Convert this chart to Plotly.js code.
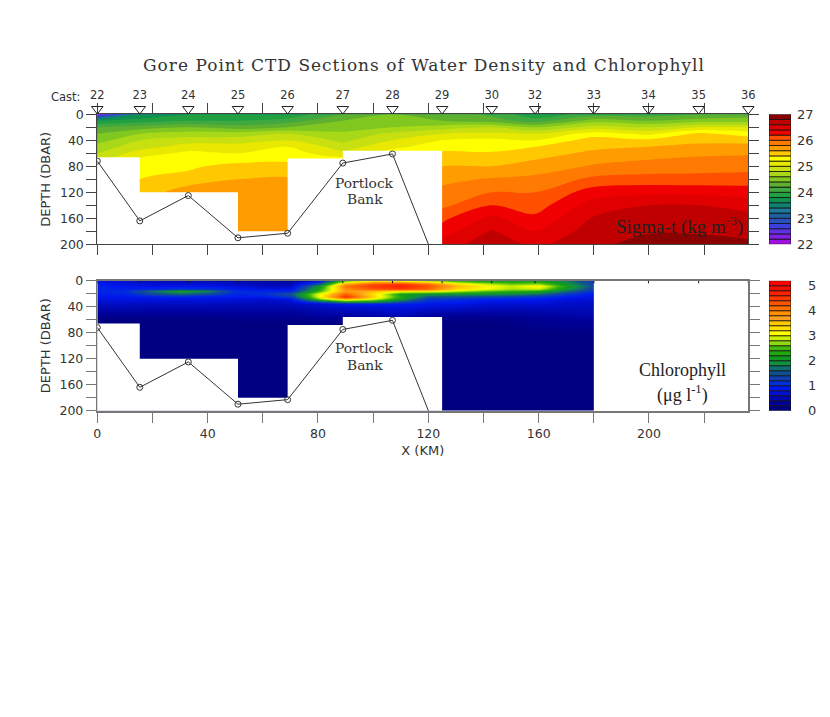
<!DOCTYPE html>
<html><head><meta charset="utf-8">
<script src="https://cdn.plot.ly/plotly-3.0.1.min.js"></script>
<style>html,body{margin:0;padding:0;background:#fff}.gtitle{letter-spacing:1px}</style></head>
<body><div id="c" style="width:830px;height:717px"></div>
<script>
var castLabels=['22','23','24','25','26','27','28','29','30','32','33','34','35','36'];
var castKm=[0,15.4,33,51,69,89,107,125,143,158.7,180,199.8,218,236];
var sigmaDepth=[0,10,20,30,40,50,60,70,80,100,120,140,160,180,200];
var sigmaByDepth=[
[22.3,23.6,23.8,23.8,23.85,24.2,24.4,24.3,24.15,23.85,24.1,24.1,24.2,24.3],
[23.8,23.9,24.0,24.0,24.1,24.4,24.45,24.4,24.3,24.1,24.5,24.4,24.5,24.5],
[24.2,24.3,24.4,24.3,24.4,24.5,24.6,24.7,24.8,24.6,24.9,24.8,25.0,25.0],
[24.4,24.6,24.7,24.7,24.8,24.65,24.85,25.0,25.05,25.0,25.3,25.15,25.45,25.3],
[24.5,24.8,24.9,24.9,25.0,24.75,25.0,25.2,25.25,25.2,25.5,25.45,25.55,25.55],
[24.7,24.9,25.1,25.1,25.2,24.9,25.15,25.3,25.33,25.4,25.55,25.6,25.65,25.65],
[24.8,25.1,25.25,25.2,25.3,25.05,25.3,25.45,25.42,25.5,25.65,25.72,25.75,25.78],
[24.9,25.25,25.3,25.3,25.35,25.3,25.4,25.5,25.5,25.6,25.75,25.8,25.85,25.85],
[25.0,25.3,25.35,25.5,25.5,25.4,25.5,25.6,25.6,25.7,25.82,25.88,25.92,25.92],
[25.1,25.4,25.5,25.6,25.62,25.5,25.6,25.75,25.82,25.85,26.05,26.08,26.07,26.1],
[25.2,25.5,25.7,25.7,25.7,25.6,25.7,25.85,26.0,26.0,26.3,26.35,26.35,26.3],
[25.3,25.6,25.7,25.7,25.72,25.7,25.8,25.95,26.2,26.1,26.5,26.6,26.6,26.55],
[25.4,25.6,25.7,25.72,25.75,25.8,25.9,26.15,26.45,26.25,26.62,26.7,26.7,26.65],
[25.5,25.7,25.7,25.72,25.75,25.9,26.0,26.3,26.62,26.4,26.7,26.78,26.78,26.72],
[25.5,25.7,25.7,25.75,25.75,25.9,26.1,26.5,26.72,26.55,26.75,26.88,26.88,26.85]
];
var sigmaColors=['#a010e0','#8020e0','#6030e0','#3a40e0','#2a50c0','#2060a0','#1f7a9a','#108070','#109050','#20a040','#40a840','#60b030','#80c820','#a8d818','#c8e010','#e8e800','#ffff00','#ffc800','#ff9c00','#ff7a00','#ff5000','#f00000','#e00000','#c00000','#8b0000'];
var sigmaLevels=[22,22.2,22.4,22.6,22.8,23,23.2,23.4,23.6,23.8,24,24.2,24.4,24.6,24.8,25,25.2,25.4,25.6,25.8,26,26.2,26.4,26.6,26.8];
var chlKm=[0,10,20,30,40,50,60,70,80,90,100,110,120,130,140,150,160,170,180];
var chlDepth=[0,4,8,12,16,20,24,28,32,36,40,50,60,80,120,200];
var chlByDepth=[
[.85,.7,.6,.6,.6,.55,.45,.4,.8,2.6,3.3,3.2,2.9,2.4,2.2,2.2,2.2,1.8,1.2],
[.9,.75,.7,.7,.7,.6,.5,.5,1.4,3.7,4.3,4.5,4.1,3.3,2.9,2.6,2.7,2,1.3],
[1,.85,.8,.85,.85,.75,.6,.6,2.0,4.1,4.5,4.7,4.3,3.6,3.2,2.9,3.2,2.2,1.4],
[1,.95,1,1.1,1.1,.9,.8,.8,2.2,3.9,4.3,4.5,4.2,3.4,3.1,2.8,2.9,2.0,1.3],
[1,1.1,1.7,2.2,1.9,1.1,1,1,2.4,3.8,3.6,3.3,3.3,2.9,2.6,2.4,2.3,1.7,1.1],
[.95,1,1.4,1.6,1.4,1,1.1,1.5,3.0,4.2,3.3,2.2,2.0,2.0,2.0,1.9,1.7,1.2,.9],
[.85,.85,.9,.95,.9,.9,.9,1.2,3.0,4.6,3.4,2.3,1.5,1.4,1.3,1.2,1.1,.9,.8],
[.8,.8,.8,.8,.8,.75,.7,.8,2.6,3.6,3.0,2.1,1.2,1.1,1,.95,.9,.8,.7],
[.7,.7,.7,.7,.7,.65,.6,.65,1.3,2.0,1.9,1.4,1,.95,.85,.8,.8,.7,.65],
[.6,.6,.6,.6,.6,.55,.55,.6,.7,.9,.95,.95,.85,.8,.7,.7,.7,.65,.6],
[.55,.55,.5,.5,.5,.5,.5,.5,.6,.7,.75,.8,.75,.7,.65,.6,.6,.6,.55],
[.3,.3,.3,.3,.3,.3,.3,.3,.4,.45,.5,.6,.45,.35,.35,.35,.4,.45,.5],
[.1,.1,.1,.1,.1,.15,.15,.15,.2,.2,.25,.25,.2,.15,.15,.2,.25,.3,.35],
[.05,.05,.05,.05,.05,.05,.05,.05,.05,.05,.05,.05,.05,.05,.05,.1,.12,.15,.15],
[.05,.05,.05,.05,.05,.05,.05,.05,.05,.05,.05,.05,.05,.05,.05,.05,.05,.05,.05],
[.05,.05,.05,.05,.05,.05,.05,.05,.05,.05,.05,.05,.05,.05,.05,.05,.05,.05,.05]
];
var chlColors=['#000080','#000098','#0008b0','#0010d0','#0018f0','#0030d8','#1040b0','#105090','#107070','#109040','#109820','#20a810','#40b810','#90d810','#c8f000','#ffff00','#ffe000','#ffc800','#ffa020','#ff9000','#ff7000','#ff5400','#ff3800','#ff2000','#f01000','#ff0000'];
var chlLevels=[0,.2,.4,.6,.8,1,1.2,1.4,1.6,1.8,2,2.2,2.4,2.6,2.8,3,3.2,3.4,3.6,3.8,4,4.2,4.4,4.6,4.8,5];
var bottomKm=[0,15.4,33,51,69,89,107,125];
var bottomDepth=[72,164,125,190,183,75,61,253];
var sampledEdgeKm=[-3,15.4,51,69,89,125];
var sampledMaxDepth=[66,120,180,68,56];
var maskFloorDepth=210;
var xTickVals=[0,20,40,60,80,100,120,140,160,180,200,220];
var xTickText=['0','','40','','80','','120','','160','','200',''];
var yTickVals=[0,20,40,60,80,100,120,140,160,180,200];
var yTickText=['0','','40','','80','','120','','160','','200'];
var sigmaBarTicks=[22,23,24,25,26,27];
var chlBarTicks=[0,1,2,3,4,5];

var W=830,H=717;
function dx(a,b){return [a/W,b/W];}
function dy(t,b){return [1-b/H,1-t/H];}
function scale(colors){var s=[],n=colors.length;for(var i=0;i<n;i++){s.push([i/n,colors[i]]);s.push([(i+1)/n,colors[i]]);}return s;}
function smoothScale(colors){var s=[],n=colors.length;for(var i=0;i<n;i++){s.push([(i+0.5)/n,colors[i]]);}s.unshift([0,colors[0]]);s.push([1,colors[n-1]]);return s;}
function maskPoly(){var xs=[],ys=[];for(var i=0;i<sampledMaxDepth.length;i++){xs.push(sampledEdgeKm[i],sampledEdgeKm[i+1]);ys.push(sampledMaxDepth[i],sampledMaxDepth[i]);}
 var last=sampledEdgeKm[sampledEdgeKm.length-1];xs.push(last,sampledEdgeKm[0],sampledEdgeKm[0]);ys.push(maskFloorDepth,maskFloorDepth,sampledMaxDepth[0]);return {x:xs,y:ys};}
var m=maskPoly();
function maskTrace(xa,ya){return {type:'scatter',mode:'lines',x:m.x,y:m.y,xaxis:xa,yaxis:ya,fill:'toself',fillcolor:'#fff',line:{width:0},hoverinfo:'skip',showlegend:false};}
function bedTrace(xa,ya){return {type:'scatter',mode:'lines+markers',x:bottomKm,y:bottomDepth,xaxis:xa,yaxis:ya,line:{color:'#333',width:1},marker:{symbol:'circle-open',size:6,color:'#333',line:{width:1,color:'#333'}},showlegend:false};}
function barTrace(levels,colors,xa,ya){return {type:'bar',x:levels.map(function(){return 0;}),y:levels.map(function(){return 0.2;}),base:levels,width:1,xaxis:xa,yaxis:ya,marker:{color:colors,line:{color:'#111',width:0.8}},hoverinfo:'skip',showlegend:false};}

var data=[
 {type:'contour',x:castKm,y:sigmaDepth,z:sigmaByDepth,xaxis:'x',yaxis:'y',zmin:22,zmax:27,zauto:false,autocontour:false,
  contours:{start:22,end:27,size:0.2,coloring:'fill',showlines:false},line:{width:0},colorscale:scale(sigmaColors),showscale:false},
 maskTrace('x','y'),bedTrace('x','y'),
 {type:'contour',x:chlKm,y:chlDepth,z:chlByDepth,xaxis:'x2',yaxis:'y2',zmin:0,zmax:5.2,zauto:false,autocontour:false,
  contours:{start:0,end:5.2,size:0.2,coloring:'heatmap',showlines:false},line:{width:0},colorscale:smoothScale(chlColors),showscale:false},
 maskTrace('x2','y2'),bedTrace('x2','y2'),
 {type:'scatter',mode:'markers',x:castKm,y:castKm.map(function(){return 0.8;}),xaxis:'x2',yaxis:'y2',marker:{symbol:'line-ns-open',size:3,color:'#111',line:{width:1,color:'#111'}},showlegend:false},
 barTrace(sigmaLevels,sigmaColors,'x3','y3'),
 barTrace(chlLevels,chlColors,'x4','y4'),
 {type:'scatter',mode:'markers+text',x:castKm,y:castKm.map(function(){return 0.82;}),text:castLabels,textposition:'top center',cliponaxis:false,
  textfont:{family:'DejaVu Sans',size:11.5,color:'#333'},marker:{symbol:'triangle-down-open',size:10,color:'#222',line:{width:1,color:'#222'}},xaxis:'x5',yaxis:'y5',showlegend:false}
];
var tf={family:'DejaVu Sans',size:12.5,color:'#333'};
function xax(dom,anchor,labels,col,lw,mir){return {domain:dom,anchor:anchor,range:[0,236],tickmode:'array',tickvals:xTickVals,ticktext:xTickText,ticks:'outside',ticklen:10,tickcolor:col,tickwidth:1,showticklabels:labels,showgrid:false,zeroline:false,showline:true,linecolor:col,linewidth:lw,mirror:mir,tickfont:tf};}
function yax(dom,anchor,col,lw){return {domain:dom,anchor:anchor,range:[200,0],tickmode:'array',tickvals:yTickVals,ticktext:yTickText,ticks:'outside',ticklen:10,tickcolor:col,tickwidth:1,showgrid:false,zeroline:false,showline:true,linecolor:col,linewidth:lw,mirror:'allticks',tickfont:tf,title:{text:'DEPTH (DBAR)',font:{family:'DejaVu Sans',size:13,color:'#333'},standoff:6}};}
function barx(dom,anchor){return {domain:dom,anchor:anchor,range:[-0.5,0.5],visible:false,fixedrange:true};}
function bary(dom,anchor,lo,hi,vals,off){return {domain:dom,anchor:anchor,side:'right',range:[lo,hi],tickmode:'array',tickvals:vals,ticktext:vals.map(String),ticks:'',showgrid:false,zeroline:false,showline:false,ticklabelstandoff:off,tickfont:{family:'DejaVu Sans',size:13,color:'#333'}};}
var xd=dx(97.3,748.3),yd1=dy(114.3,244.3),yd2=dy(280.7,410.7),bx=dx(769,791);
var portlockFont={family:'DejaVu Serif',size:13.8,color:'#333'};
var ann=[
 {xref:'paper',yref:'paper',x:65/W,y:1-97/H,xanchor:'center',yanchor:'middle',text:'Cast:',showarrow:false,font:{family:'DejaVu Sans',size:11.5,color:'#333'}},
 {xref:'x',yref:'y',x:97,y:105,text:'Portlock',showarrow:false,font:portlockFont},
 {xref:'x',yref:'y',x:97,y:130,text:'Bank',showarrow:false,font:portlockFont},
 {xref:'x2',yref:'y2',x:97,y:104,text:'Portlock',showarrow:false,font:portlockFont},
 {xref:'x2',yref:'y2',x:97,y:129,text:'Bank',showarrow:false,font:portlockFont},
 {xref:'x',yref:'y',x:211,y:171,text:'Sigma-t (kg m<sup>-3</sup>)',showarrow:false,font:{family:'Liberation Serif',size:19,color:'#222'}},
 {xref:'x2',yref:'y2',x:212,y:137,text:'Chlorophyll',showarrow:false,font:{family:'Liberation Serif',size:18,color:'#222'}},
 {xref:'x2',yref:'y2',x:212,y:174,text:'(\u03bcg l<sup>-1</sup>)',showarrow:false,font:{family:'Liberation Serif',size:18,color:'#222'}}
];
var layout={width:W,height:H,margin:{l:0,r:0,t:0,b:0},paper_bgcolor:'#fff',plot_bgcolor:'rgba(0,0,0,0)',showlegend:false,barmode:'overlay',bargap:0,
 title:{text:'Gore Point CTD Sections of Water Density and Chlorophyll',x:424/W,xanchor:'center',y:1-65/H,yanchor:'middle',font:{family:'DejaVu Serif',size:17,color:'#333'}},
 xaxis:xax(xd,'y',false,'#444',1,'allticks'),yaxis:yax(yd1,'x','#444',1),
 xaxis2:Object.assign(xax(xd,'y2',true,'#777',2,true),{title:{text:'X (KM)',font:{family:'DejaVu Sans',size:13,color:'#333'},standoff:6}}),yaxis2:yax(yd2,'x2','#777',1.5),
 xaxis3:barx(bx,'y3'),yaxis3:bary(yd1,'x3',22,27,sigmaBarTicks,5),
 xaxis4:barx(bx,'y4'),yaxis4:bary(yd2,'x4',0,5.2,chlBarTicks,16),
 xaxis5:{domain:xd,anchor:'y5',range:[0,236],visible:false},
 yaxis5:{domain:dy(85,114.3),anchor:'x5',range:[1,0],visible:false},
 annotations:ann};
Plotly.newPlot('c',data,layout,{displayModeBar:false,staticPlot:true});
</script></body></html>
